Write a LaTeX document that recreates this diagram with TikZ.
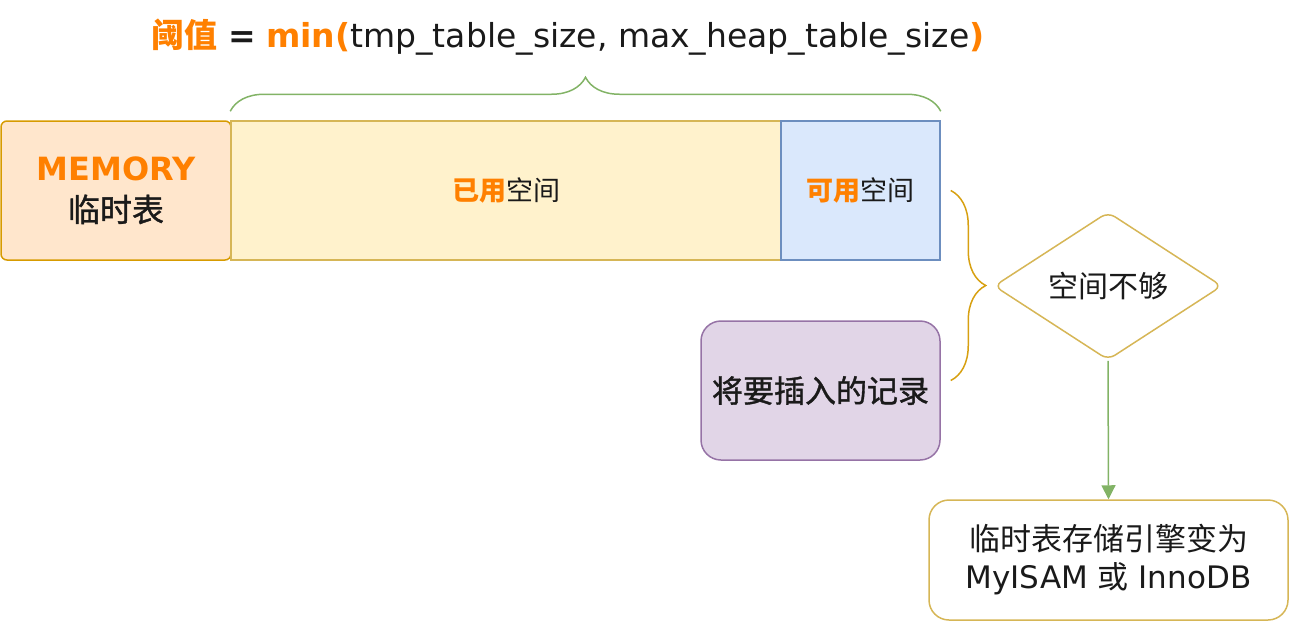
\documentclass[tikz,border=0pt]{standalone}
\usepackage{fontspec}
\setmainfont{DejaVu Sans}
\newfontfamily\cjk{Noto Sans CJK SC}
\newfontfamily\cjkmed[FakeBold=1.2]{Noto Sans CJK SC}
\usetikzlibrary{shapes.geometric, arrows.meta, decorations.pathreplacing}

\definecolor{hlorange}{HTML}{FF8000}
\definecolor{txtdark}{HTML}{1A1A1A}
\definecolor{memfill}{HTML}{FFE6CC}
\definecolor{memline}{HTML}{D79B00}
\definecolor{usedfill}{HTML}{FFF2CC}
\definecolor{usedline}{HTML}{D6B656}
\definecolor{freefill}{HTML}{DAE8FC}
\definecolor{freeline}{HTML}{6C8EBF}
\definecolor{recfill}{HTML}{E1D5E7}
\definecolor{recline}{HTML}{9673A6}
\definecolor{greenline}{HTML}{82B366}

\begin{document}
\begin{tikzpicture}[x=1pt, y=-1pt, line width=1.5pt, text=txtdark,
	box/.style={rectangle, inner sep=0pt, align=center},
	membox/.style={box, fill=memfill, draw=memline, rounded corners=6pt,
		minimum width=230pt, minimum height=139pt, font=\fontsize{32}{41}\selectfont},
	usedbox/.style={box, fill=usedfill, draw=usedline,
		minimum width=550pt, minimum height=139pt, font=\fontsize{27}{32}\selectfont},
	freebox/.style={box, fill=freefill, draw=freeline,
		minimum width=159pt, minimum height=139pt, font=\fontsize{27}{32}\selectfont},
	recbox/.style={box, fill=recfill, draw=recline, rounded corners=20pt,
		minimum width=239pt, minimum height=139pt, font=\fontsize{31}{38}\selectfont},
	endbox/.style={box, fill=white, draw=usedline, rounded corners=20pt,
		minimum width=359pt, minimum height=120pt, font=\fontsize{31}{38}\selectfont},
	decision/.style={diamond, aspect=1.54, inner sep=0pt, fill=white, draw=usedline,
		rounded corners=8pt, minimum width=228pt, minimum height=148pt,
		font=\fontsize{30}{36}\selectfont},
	topbrace/.style={draw=greenline, decorate, decoration={brace, amplitude=34pt}},
	sidebrace/.style={draw=memline!80!usedline, decorate, decoration={brace, amplitude=35pt}},
	flow/.style={draw=greenline, -{Triangle[width=14pt, length=14pt]}}]
	\useasboundingbox (0,0) rectangle (1290,622);
	
	% threshold formula
	\node[font=\fontsize{33}{38}\selectfont] (title) at (568,37)
		{{\cjk\bfseries\color{hlorange}阈值} \textbf{=} {\bfseries\color{hlorange}min(}tmp\_table\_size, max\_heap\_table\_size{\bfseries\color{hlorange})}};
	
	% the MEMORY table
	\node[membox] (mem) at (116,190.5) {{\bfseries\color{hlorange}MEMORY}\\{\cjkmed 临时表}};
	\node[usedbox] (used) at (506,190.5) {\cjk{\bfseries\color{hlorange}已用}空间};
	\node[freebox] (free) at (860.5,190.5) {\cjk{\bfseries\color{hlorange}可用}空间};
	
	% record and decision
	\node[recbox] (rec) at (820.5,390.5) {\cjkmed 将要插入的记录};
	\node[decision] (check) at (1108,286) {\cjk 空间不够};
	\node[endbox] (engine) at (1108.5,560) {{\cjk 临时表存储引擎变为}\\MyISAM {\cjk 或} InnoDB};
	
	% braces and arrow
	\draw[topbrace] ([yshift=9pt]used.north west) -- ([yshift=9pt]free.north east);
	\draw[sidebrace] ([xshift=10pt]free.east) -- ([xshift=10pt, yshift=10pt]rec.east);
	\draw[flow] (check.south) -- (engine.north);
\end{tikzpicture}
\end{document}
